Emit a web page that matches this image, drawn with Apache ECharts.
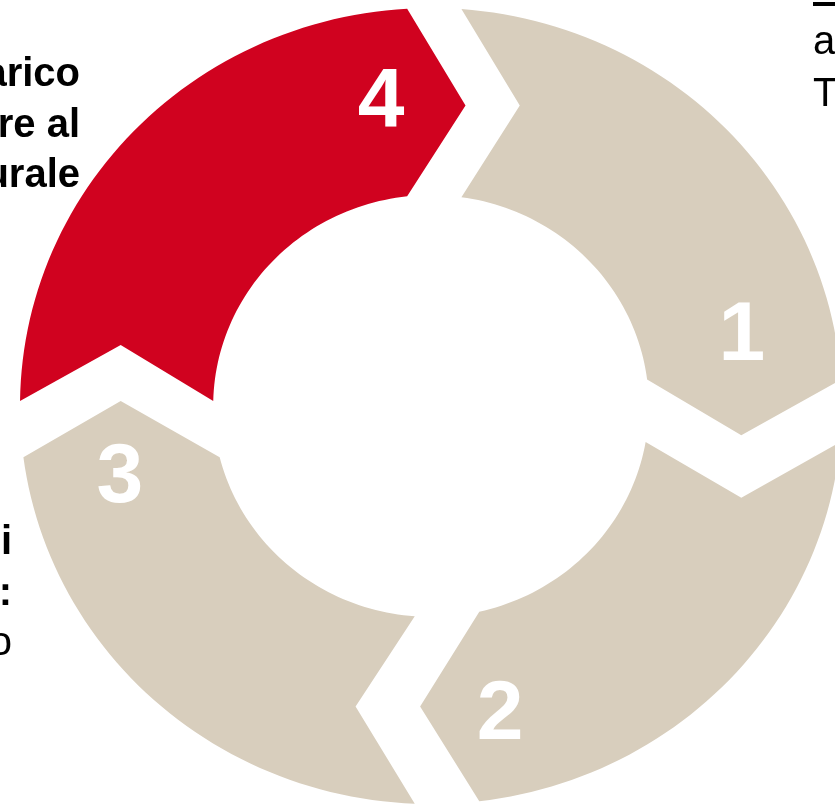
<!DOCTYPE html>
<html lang="it">
<head>
    <meta charset="UTF-8">
    <title>Ciclo</title>
    <script src="https://cdn.jsdelivr.net/npm/echarts@6/dist/echarts.min.js"></script>
    <style>
        * {
            margin: 0;
            padding: 0;
        }

        html, body {
            width: 835px;
            height: 805px;
            background: #fff;
            overflow: hidden;
        }

        #chart {
            width: 835px;
            height: 805px;
        }
    </style>
</head>
<body>
<div id="chart"></div>
<script>
    // fasi del ciclo, in senso orario partendo dall'alto
    let steps = ['1', '2', '3', '4']
    let stepShare = [1, 1, 1, 1]
    let activeStep = '4'

    // testo che esce dai bordi della slide
    let leftTopText = ['arico', 're al', 'urale']
    let leftBottomText = ['i', ':', 'o']
    let rightTopText = ['a', 'T']

    // forma dei tagli tra le fasi (raggio esterno = 1)
    let cutShift = [0.008, 0.012, -0.039, -0.058]
    let cutGap = [0.132, 0.157, 0.157, 0.141]
    let cutTip = [0.142, 0.14, 0.144, 0.141]

    // posizione dei numeri: gradi prima della fine della fase, raggio
    const labelBack = [12.9, 12.2, 13.6, 9.1]
    const labelRadius = [0.776, 0.797, 0.779, 0.769]

    const ringOuter = 1
    const ringInner = 0.53
    const tipRadius = 0.755
    const red = '#D0021F'
    const beige = '#D8CEBD'
    const font = '"Liberation Sans", Arial, sans-serif'

    const total = stepShare.reduce((a, b) => a + b, 0)
    let cutAngles = []
    let acc = 0
    stepShare.forEach(v => {
        cutAngles.push(acc / total * 360)
        acc += v
    })

    const rad = d => d * Math.PI / 180
    const deg = r => r * 180 / Math.PI

    // r lungo il raggio, s lungo la tangente (senso orario), phi in gradi dall'alto
    const toXY = function (r, s, phi) {
        let a = rad(phi)
        return [r * Math.sin(a) + s * Math.cos(a), r * Math.cos(a) - s * Math.sin(a)]
    }

    const edge = function (k, side, phi) {
        let s = cutShift[k] + side * cutGap[k] / 2
        let ro = Math.sqrt(ringOuter * ringOuter - s * s)
        let ri = Math.sqrt(ringInner * ringInner - s * s)
        return {
            outer: toXY(ro, s, phi),
            tip: toXY(tipRadius, s + cutTip[k], phi),
            inner: toXY(ri, s, phi),
            aOuter: phi + deg(Math.atan2(s, ro)),
            aInner: phi + deg(Math.atan2(s, ri))
        }
    }

    const arc = function (r, from, to, pts) {
        let n = Math.ceil(Math.abs(to - from) / 1.5)
        for (let j = 1; j < n; j++) {
            pts.push(toXY(r, 0, from + (to - from) * j / n))
        }
    }

    const textEl = function (text, x, y, align, bold) {
        return {
            type: 'text',
            x: x,
            y: y,
            style: {
                text: text,
                fill: '#000',
                font: (bold ? 'bold ' : '') + '40px ' + font,
                textAlign: align,
                align: align,
                textVerticalAlign: 'middle',
                verticalAlign: 'middle'
            }
        }
    }

    let graphics = []
    leftTopText.forEach((t, i) => graphics.push(textEl(t, 80, 75 + i * 50.5, 'right', true)))
    leftBottomText.forEach((t, i) => graphics.push(textEl(t, 12, 543 + i * 50.5, 'right', i < 2)))
    rightTopText.forEach((t, i) => graphics.push(textEl(t, 813, 43 + i * 52, 'left', false)))
    graphics.push({type: 'rect', shape: {x: 813, y: 2, width: 22, height: 4}, style: {fill: '#000'}})

    const chart = echarts.init(document.getElementById('chart'))
    chart.setOption({
        animation: false,
        grid: {left: 0, right: 0, top: 0, bottom: 0},
        xAxis: {type: 'value', min: -431 / 411, max: 404 / 411, show: false},
        yAxis: {type: 'value', min: -399 / 398, max: 406 / 398, show: false},
        graphic: graphics,
        series: [{
            type: 'custom',
            coordinateSystem: 'cartesian2d',
            clip: false,
            data: steps.map((s, i) => [i, 0]),
            renderItem(params, api) {
                let i = params.dataIndex
                let a0 = cutAngles[i]
                let a1 = a0 + stepShare[i] / total * 360
                let tr = edge(i, 1, a0)
                let ld = edge((i + 1) % steps.length, -1, a1)
                let pts = [tr.outer]
                arc(ringOuter, tr.aOuter, ld.aOuter, pts)
                pts.push(ld.outer, ld.tip, ld.inner)
                arc(ringInner, ld.aInner, tr.aInner, pts)
                pts.push(tr.inner, tr.tip)
                let lp = api.coord(toXY(labelRadius[i], 0, a1 - labelBack[i]))
                return {
                    type: 'group',
                    children: [{
                        type: 'polygon',
                        shape: {points: pts.map(p => api.coord(p))},
                        style: {fill: steps[i] === activeStep ? red : beige}
                    }, {
                        type: 'text',
                        x: lp[0],
                        y: lp[1],
                        style: {
                            text: steps[i],
                            fill: '#fff',
                            font: 'bold 84px ' + font,
                            textAlign: 'center',
                            align: 'center',
                            textVerticalAlign: 'middle',
                            verticalAlign: 'middle'
                        }
                    }]
                }
            }
        }]
    })
</script>
</body>
</html>
